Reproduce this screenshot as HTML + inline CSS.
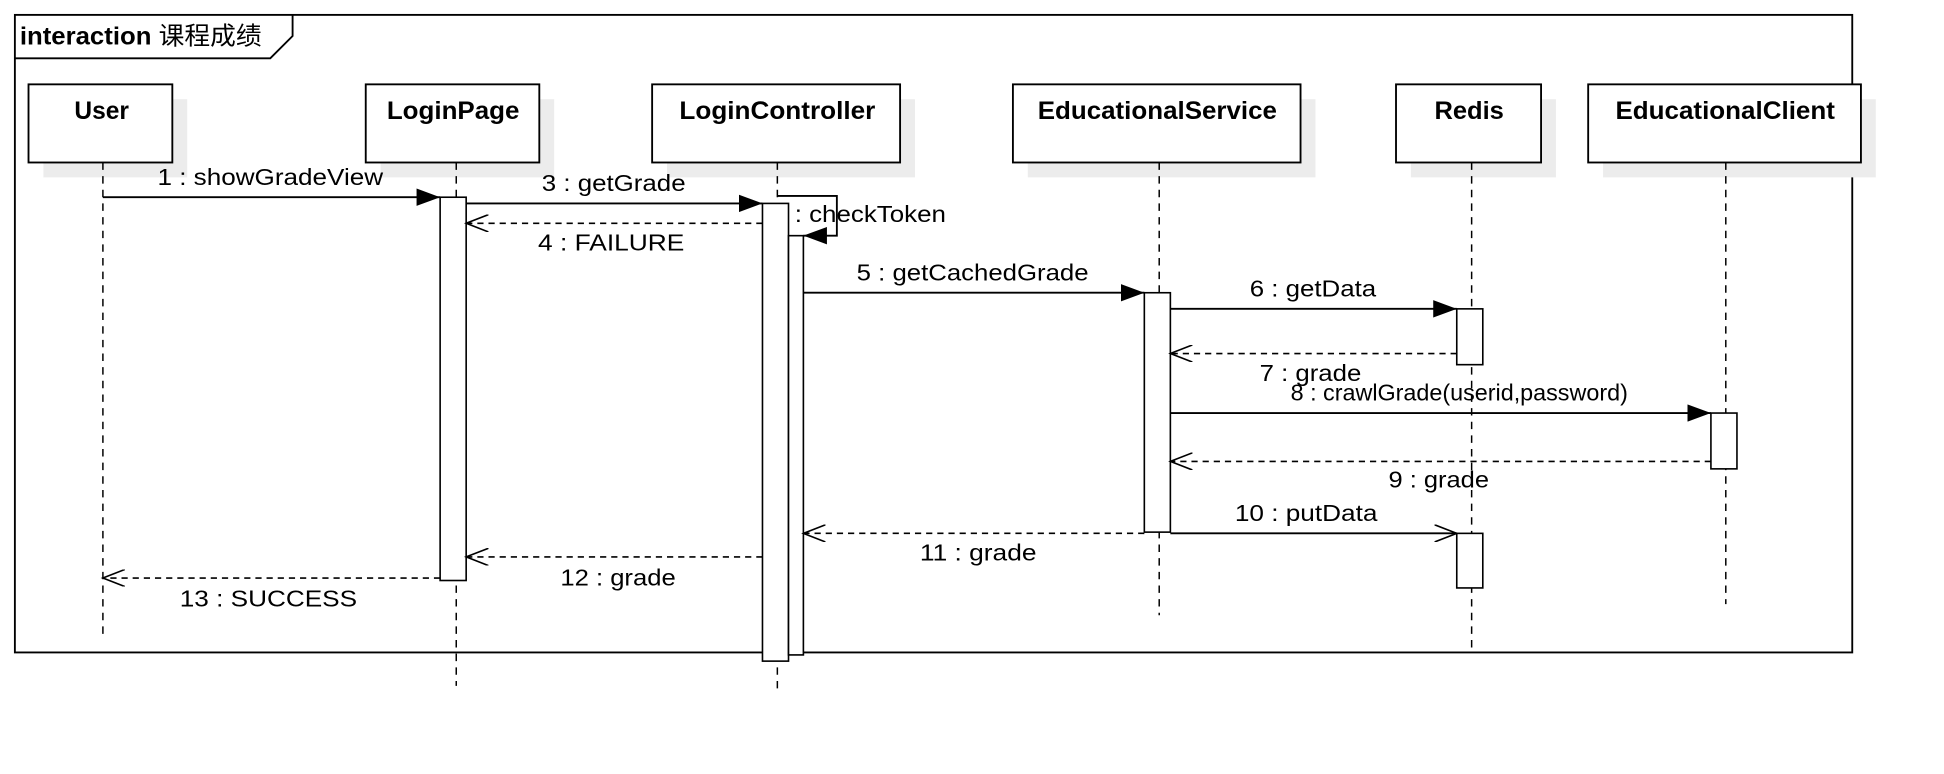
<!DOCTYPE html>
<html><head><meta charset="utf-8"><style>
html,body{margin:0;padding:0;background:#fff;width:1944px;height:774px;overflow:hidden}
svg{display:block}
text{font-family:"Liberation Sans","Noto Sans CJK SC",sans-serif;font-size:19px;fill:#000}
.b{font-weight:bold;font-size:20px}
</style></head><body>
<svg width="1944" height="774" viewBox="0 0 1568 624" preserveAspectRatio="none" xmlns="http://www.w3.org/2000/svg">
<defs>
<marker id="f" markerWidth="20" markerHeight="14" refX="19" refY="7" orient="auto" markerUnits="userSpaceOnUse"><path d="M0,0 L19,7 L0,14 Z" fill="#000"/></marker>
<marker id="o" markerWidth="20" markerHeight="14" refX="18" refY="7" orient="auto" markerUnits="userSpaceOnUse"><path d="M0,0 L18,7 L0,14" fill="none" stroke="#000" stroke-width="1.3"/></marker>
</defs>
<rect x="12" y="12" width="1482" height="514" fill="none" stroke="#000" stroke-width="1.5"/>
<path d="M12,47 L218,47 L236,29 L236,12" fill="none" stroke="#000" stroke-width="1.5"/>
<text x="16" y="36" class="b" textLength="195" lengthAdjust="spacingAndGlyphs">interaction <tspan font-weight="normal">课程成绩</tspan></text>
<g fill="#ececec">
<rect x="35" y="80" width="116" height="63"/><rect x="307" y="80" width="140" height="63"/>
<rect x="538" y="80" width="200" height="63"/><rect x="829" y="80" width="232" height="63"/>
<rect x="1138" y="80" width="117" height="63"/><rect x="1293" y="80" width="220" height="63"/>
</g>
<g fill="#fff" stroke="#000" stroke-width="1.5">
<rect x="23" y="68" width="116" height="63"/><rect x="295" y="68" width="140" height="63"/>
<rect x="526" y="68" width="200" height="63"/><rect x="817" y="68" width="232" height="63"/>
<rect x="1126" y="68" width="117" height="63"/><rect x="1281" y="68" width="220" height="63"/>
</g>
<g lengthAdjust="spacingAndGlyphs">
<text x="60" y="96" class="b" textLength="44" lengthAdjust="spacingAndGlyphs">User</text>
<text x="312" y="96" class="b" textLength="107" lengthAdjust="spacingAndGlyphs">LoginPage</text>
<text x="548" y="96" class="b" textLength="158" lengthAdjust="spacingAndGlyphs">LoginController</text>
<text x="837" y="96" class="b" textLength="193" lengthAdjust="spacingAndGlyphs">EducationalService</text>
<text x="1157" y="96" class="b" textLength="56" lengthAdjust="spacingAndGlyphs">Redis</text>
<text x="1303" y="96" class="b" textLength="177" lengthAdjust="spacingAndGlyphs">EducationalClient</text>
</g>
<g stroke="#000" stroke-width="1.2" stroke-dasharray="6,5">
<line x1="83" y1="131" x2="83" y2="516"/><line x1="368" y1="131" x2="368" y2="553"/>
<line x1="627" y1="131" x2="627" y2="556"/><line x1="935" y1="131" x2="935" y2="496"/>
<line x1="1187" y1="131" x2="1187" y2="526"/><line x1="1392" y1="131" x2="1392" y2="487"/>
</g>
<g fill="#fff" stroke="#000" stroke-width="1.3">
<rect x="355" y="159" width="21" height="309"/>
<rect x="615" y="164" width="21" height="369"/>
<rect x="636" y="190" width="12" height="338"/>
<rect x="923" y="236" width="21" height="193"/>
<rect x="1175" y="249" width="21" height="45"/>
<rect x="1175" y="430" width="21" height="44"/>
<rect x="1380" y="333" width="21" height="45"/>
</g>
<g stroke="#000" stroke-width="1.5" fill="none">
<line x1="83" y1="159" x2="355" y2="159" marker-end="url(#f)"/>
<line x1="376" y1="164" x2="615" y2="164" marker-end="url(#f)"/>
<polyline points="627,158 675,158 675,190 648,190" marker-end="url(#f)"/>
<line x1="648" y1="236" x2="923" y2="236" marker-end="url(#f)"/>
<line x1="944" y1="249" x2="1175" y2="249" marker-end="url(#f)"/>
<line x1="944" y1="333" x2="1380" y2="333" marker-end="url(#f)"/>
<line x1="944" y1="430" x2="1175" y2="430" marker-end="url(#o)"/>
</g>
<g stroke="#000" stroke-width="1.3" fill="none" stroke-dasharray="5,4">
<line x1="615" y1="180" x2="376" y2="180" marker-end="url(#o)"/>
<line x1="1175" y1="285" x2="944" y2="285" marker-end="url(#o)"/>
<line x1="1380" y1="372" x2="944" y2="372" marker-end="url(#o)"/>
<line x1="923" y1="430" x2="648" y2="430" marker-end="url(#o)"/>
<line x1="615" y1="449" x2="376" y2="449" marker-end="url(#o)"/>
<line x1="355" y1="466" x2="83" y2="466" marker-end="url(#o)"/>
</g>
<text x="127" y="149" textLength="182" lengthAdjust="spacingAndGlyphs">1 : showGradeView</text>
<text x="437" y="154" textLength="116" lengthAdjust="spacingAndGlyphs">3 : getGrade</text>
<text x="434" y="202" textLength="118" lengthAdjust="spacingAndGlyphs">4 : FAILURE</text>
<text x="691" y="226" textLength="187" lengthAdjust="spacingAndGlyphs">5 : getCachedGrade</text>
<text x="1008" y="239" textLength="102" lengthAdjust="spacingAndGlyphs">6 : getData</text>
<text x="1016" y="307" textLength="82" lengthAdjust="spacingAndGlyphs">7 : grade</text>
<text x="1041" y="323" textLength="272" lengthAdjust="spacingAndGlyphs">8 : crawlGrade(userid,password)</text>
<text x="1120" y="393" textLength="81" lengthAdjust="spacingAndGlyphs">9 : grade</text>
<text x="996" y="420" textLength="115" lengthAdjust="spacingAndGlyphs">10 : putData</text>
<text x="742" y="452" textLength="94" lengthAdjust="spacingAndGlyphs">11 : grade</text>
<text x="452" y="472" textLength="93" lengthAdjust="spacingAndGlyphs">12 : grade</text>
<text x="145" y="489" textLength="143" lengthAdjust="spacingAndGlyphs">13 : SUCCESS</text>
<text x="641" y="179" textLength="122" lengthAdjust="spacingAndGlyphs">: checkToken</text>
</svg>
</body></html>
